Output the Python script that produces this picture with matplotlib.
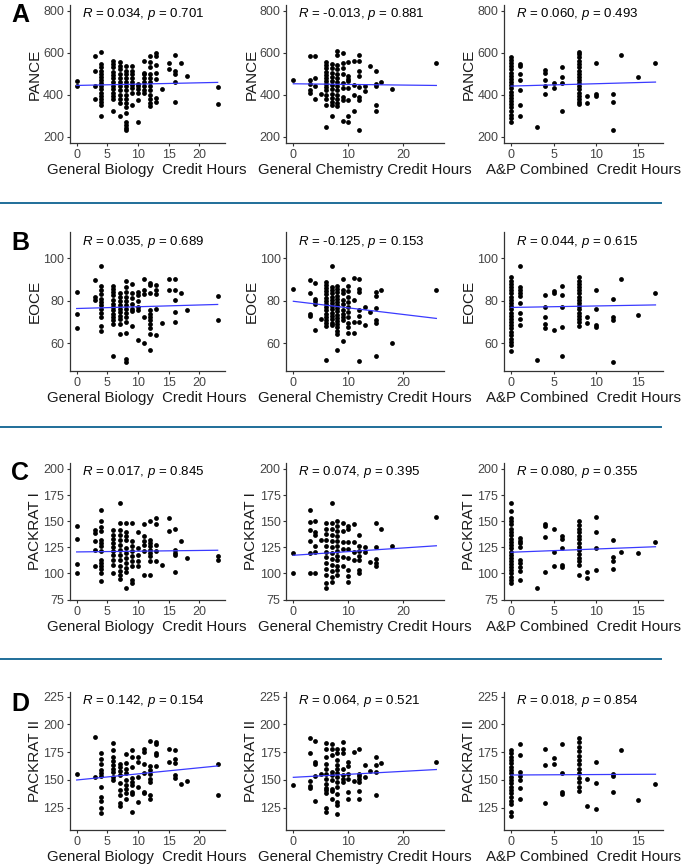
import numpy as np
import matplotlib
matplotlib.use("Agg")
import matplotlib.pyplot as plt
from matplotlib.lines import Line2D

plt.rcParams['font.family'] = ['Liberation Sans', 'DejaVu Sans']
plt.rcParams['mathtext.fontset'] = 'custom'
plt.rcParams['mathtext.rm'] = 'Liberation Sans'
plt.rcParams['mathtext.it'] = 'Liberation Sans:italic'

# ---------------- data (credit hours -> list of scores) ----------------
bio_pance = {0: [465, 440], 3: [585, 513, 440, 380],
             4: [605, 545, 530, 515, 500, 485, 470, 455, 440, 425, 410, 395, 380, 365, 350, 300],
             6: [560, 545, 530, 510, 495, 480, 460, 440, 425, 410, 395, 380, 320],
             7: [555, 535, 520, 500, 480, 460, 440, 420, 400, 380, 360, 300],
             8: [535, 515, 500, 480, 460, 440, 420, 400, 380, 360, 340, 315, 270, 255, 240, 230],
             9: [535, 515, 500, 480, 460, 445, 430, 410, 350],
             10: [450, 440, 425, 410, 375, 270],
             11: [560, 505, 500, 480, 460, 440, 420, 410],
             12: [583, 555, 530, 500, 480, 460, 440, 420, 400, 380, 360, 345],
             13: [600, 585, 540, 505, 475, 385, 365], 14: [425], 15: [550, 522],
             16: [590, 512, 500, 460, 365], 17: [550], 18: [487], 23: [437, 355]}
chem_pance = {0: [468], 3: [585, 468, 452, 424, 408], 4: [585, 481, 440, 378], 5: [405],
              6: [555, 540, 525, 510, 495, 480, 465, 450, 435, 420, 400, 380, 350, 246],
              7: [545, 525, 505, 485, 465, 445, 425, 405, 385, 365, 350, 300],
              8: [610, 588, 540, 520, 500, 480, 460, 440, 420, 400, 380, 360, 345],
              9: [600, 550, 525, 500, 455, 430, 390, 375, 275],
              10: [555, 490, 475, 465, 430, 375, 300, 270], 11: [560, 445, 400, 320],
              12: [590, 560, 515, 490, 438, 390, 375, 230], 13: [440, 418], 14: [538],
              15: [515, 452, 440, 352, 322], 16: [460], 18: [428], 26: [552]}
ap_pance = {0: [580, 565, 550, 535, 520, 505, 490, 475, 460, 445, 430, 415, 400, 385, 370, 355, 340, 320, 305, 290, 270],
            1: [548, 535, 497, 470, 420, 350, 300], 3: [245], 4: [516, 503, 468, 440, 402],
            5: [457, 433], 6: [530, 485, 455, 320],
            8: [605, 595, 580, 560, 545, 530, 515, 500, 485, 470, 455, 440, 425, 410, 395, 380, 365, 355],
            9: [392, 362], 10: [550, 405, 393], 12: [402, 365, 230], 13: [590], 15: [484], 17: [552]}

bio_eoce = {0: [84.3, 74, 67], 3: [89.6, 81.9, 80.3],
            4: [96.6, 87, 85, 83, 81, 79.5, 78, 76.4, 74.5, 72.5, 68, 66],
            6: [87, 85.8, 84, 82.7, 80.3, 78.7, 77, 75.6, 74, 72.5, 71, 69.3, 54.2],
            7: [83.5, 81.9, 79.8, 78, 76.4, 74.8, 73, 71.4, 69.3, 64.3],
            8: [89.3, 86.6, 84.2, 81.9, 79.8, 78, 76.4, 74.5, 72.5, 70, 65, 52.5, 51.2],
            9: [88, 83.5, 81.4, 78.7, 76.4, 75, 68.2], 10: [84.2, 82.7, 79.8, 77, 75.6, 61.4],
            11: [90.5, 85, 83, 72.5, 60],
            12: [88.6, 87.4, 83.5, 75.6, 74, 72.5, 71, 69.3, 67, 64.6, 56.8],
            13: [87.4, 85, 83, 76.4, 64.1], 14: [69.7], 15: [90.2, 85],
            16: [90.2, 85, 80.3, 74.8, 70], 17: [83.5], 18: [75.6], 23: [82.4, 71]}
chem_eoce = {0: [85.4], 3: [89.8, 83.5, 74, 73], 4: [88.5, 80.8, 79.8, 78.7, 66.2], 5: [71.4],
             6: [89, 87.5, 86, 84.5, 83, 81.5, 80, 78.5, 77, 75.5, 74, 72.5, 71, 69.5, 68, 52.1],
             7: [96.5, 86.5, 85, 83.5, 82, 80.5, 79, 77.5, 76, 74.5, 73, 71.5, 69.5, 68.5],
             8: [87, 85.5, 84, 82.5, 81, 79.5, 78, 76.5, 75, 73.5, 72, 70.5, 69, 67.5, 66, 64.5, 56.8],
             9: [90.5, 85, 83.5, 80.3, 78.7, 75.6, 74, 72.5, 71, 61.2],
             10: [87, 84.6, 82, 79.5, 77, 74.8, 72.5, 69.8, 67.8, 64.7],
             11: [90.9, 80.3, 70.1, 65], 12: [90.2, 85.8, 84, 75.6, 73, 70.1, 51.6],
             13: [77.2, 68.5], 14: [74.8], 15: [84, 82.4, 76.7, 71, 69.8, 54.2],
             16: [85], 18: [60], 26: [85]}
ap_eoce = {0: [91, 89.5, 88, 86.5, 85, 83.5, 82, 80.5, 79, 77.5, 76, 74.5, 73, 71.5, 70, 68.5, 67, 65.5, 64, 62, 60.5, 59, 56.5],
           1: [96.5, 86.3, 85.2, 83.6, 82.4, 79.2, 74.5, 71.7, 68.5], 3: [52.2],
           4: [82.7, 76.9, 72.2, 69.3, 67.1], 5: [84.7, 83.6, 66.3], 6: [87, 82.7, 77.3, 67.9, 54.1],
           8: [91, 89.5, 88, 86.5, 85, 83.5, 82, 80.5, 79, 77.5, 76, 74.5, 73, 71.5, 70, 68],
           9: [72.2, 69.8], 10: [85.2, 76.1, 68.6, 67.9], 12: [81.1, 72.2, 70.9, 51.4],
           13: [90.3], 15: [73.2], 17: [83.5]}

bio_pr1 = {0: [145.5, 132.9, 109.5, 100], 3: [141.7, 138.6, 130.7, 122.8, 106.9],
           4: [160.8, 150.3, 144.6, 140.9, 132.2, 129, 126, 121.2, 113.2, 110, 106.9, 103.8, 100.6, 92.7],
           6: [141.7, 137, 132.9, 129, 125.3, 121.2, 117.2, 113.2, 108.5, 100.6],
           7: [167.8, 148.1, 141.7, 137, 132.2, 127.6, 122.8, 118.1, 113.2, 106.9, 102.2, 99, 94.9],
           8: [148.7, 140.1, 135.4, 132.2, 124.4, 119.6, 114.8, 110, 105.3, 101.2, 86.3],
           9: [148.1, 130.7, 126, 121.2, 116.4, 111.6, 106.9, 93.3, 91],
           10: [139.3, 124.4, 118.1, 111.6, 106.9],
           11: [147.6, 135.4, 131.5, 127.6, 121.2, 99],
           12: [150.3, 132.2, 129, 126, 122.8, 119.6, 116.4, 111.6, 99],
           13: [153.5, 147.6, 127.6, 121.2, 111.6], 14: [108.5], 15: [153.5, 140.9],
           16: [142.5, 122.8, 119.6, 117.2, 101.2], 17: [130.7], 18: [114.8], 23: [116.4, 112.7]}
chem_pr1 = {0: [119.6, 100], 3: [160.4, 149.4, 141.5, 131.4, 119.6, 100.9],
            4: [150.3, 139.9, 136.7, 126.6, 120.3, 100.9], 5: [132.3],
            6: [148.7, 143, 137.4, 132, 126.6, 121, 115.5, 110, 104.4, 99, 90.8, 85.8],
            7: [167, 148, 142.4, 136.7, 131, 125.3, 119.6, 114, 108.3, 102.7, 97, 92.1],
            8: [150.3, 145.5, 140.8, 136, 131.3, 126.6, 121.8, 117, 112.4, 107.6, 102.9, 98.1],
            9: [148.7, 140.8, 129.7, 123.4, 115.5, 106.9],
            10: [145.6, 143, 129.7, 123.4, 114.5, 103.7, 98, 92.1],
            11: [147.1, 129.7, 120.3, 113], 12: [136.7, 126.6, 121.8, 117.1, 112.4, 103.7, 100.6],
            13: [124.9, 120.9], 14: [110.8], 15: [148.7, 125.6, 114, 110.2, 107],
            16: [142.4], 18: [126.6], 26: [154.1]}
ap_pr1 = {0: [167, 160, 153, 150, 147, 143, 140, 137, 133, 130, 127, 124, 121, 118, 115, 112, 109, 106, 103, 100, 97, 94, 91],
          1: [133.5, 131.3, 128.8, 125, 113.3, 109.8, 106, 102.8, 93.7], 3: [86.4],
          4: [147.5, 145.3, 134.5, 101.6], 5: [142.1, 120.6, 106.8],
          6: [136, 132.8, 124.2, 108.5, 106],
          8: [150, 146.8, 143, 139.5, 136, 132.5, 129, 125.5, 122, 118.5, 115, 111.5, 108, 98.4],
          9: [101.6, 95.3], 10: [153.8, 139.9, 124.2, 103.5], 12: [131.9, 115.5, 111.7, 103.8],
          13: [120.9], 15: [119.4], 17: [130.1]}

bio_pr2 = {0: [155.4], 3: [188.3, 153],
           4: [174.7, 168.7, 164.5, 159, 156, 153.6, 143.4, 134.4, 131.4, 125, 120],
           6: [183.5, 177.4, 170.3, 167.2, 163.3, 160.3, 157.2, 153, 150],
           7: [164.8, 161.8, 158.2, 154.5, 147, 141, 136.5, 129, 126.5],
           8: [173.5, 165.4, 160.3, 156.6, 150, 145.5, 141.6, 138, 132.6],
           9: [177.4, 170.8, 161.8, 151.5, 148.5, 145.5, 139.5, 137.4, 121.5],
           10: [170.8, 166.3, 152.4, 143.4, 130.5],
           11: [178.3, 175.3, 164.2, 156.6, 139.5, 138],
           12: [185.3, 162.4, 159.4, 155.7, 150.6, 148.5, 136.5, 132.6],
           13: [184.4, 182.3, 174.7, 172.6, 162.4], 15: [178.3, 166.3],
           16: [177.4, 168.7, 165.4, 154.5, 151.5], 17: [146.4], 18: [149.4], 23: [164.2, 136.5]}
chem_pr2 = {0: [145.8], 3: [188.2, 174.7, 148.8, 144.6, 142.8], 4: [185.2, 166.3, 164.8, 153.6, 131],
            5: [155.7],
            6: [183.7, 177.7, 170.8, 164.8, 160.2, 155.7, 151.2, 146.7, 142.8, 140.6, 138.6, 124.7, 121],
            7: [182.8, 177.7, 172.9, 157.2, 154.2, 149.7, 142.1, 139.8, 133.1],
            8: [178.3, 174.7, 167.8, 163.9, 160.2, 156.6, 152.7, 148.2, 143.7, 137.7, 130.1, 127.1, 119.5],
            9: [184.3, 177.7, 174.7, 159.6, 154.8, 150.6, 148.2],
            10: [166.3, 162.7, 155.7, 150.6, 139.2, 132.5], 11: [175.3, 148.8],
            12: [177.7, 155.7, 153.6, 151.2, 148.2, 139.8, 132.5], 13: [163.3, 152.4], 14: [158.4],
            15: [170.8, 163.9, 157.2, 136.8], 16: [165.7], 26: [166.3]}
ap_pr2 = {0: [177, 174, 171, 168, 165, 162, 159, 156, 153, 150, 147, 144, 141, 138, 135, 131, 128, 121, 118],
          1: [182, 172.6, 156.8, 153.8, 150.1, 143.2, 132.5], 4: [178, 163.8, 129.5],
          5: [169.9, 164.4], 6: [182.6, 156.2, 139.2, 137.1],
          8: [187.6, 184, 180, 176, 172, 168, 164, 160, 156, 152, 148, 144, 140],
          9: [150.6, 126.5], 10: [165.9, 147.2, 123.5], 12: [155.3, 153.8, 139.5],
          13: [177.1], 15: [131.6], 17: [146.3]}

# fitted regression lines: (intercept, slope)
fit_A = [(444, 0.63), (452, -0.31), (441, 1.12)]
fit_B = [(76.4, 0.083), (79.8, -0.31), (76.9, 0.07)]
fit_C = [(120.6, 0.07), (117.4, 0.35), (120.3, 0.31)]
fit_D = [(150.0, 0.55), (152.4, 0.27), (154.5, 0.04)]

stats_A = ["$R$ = 0.034, $p$ = 0.701", "$R$ = -0.013, $p$ = 0.881", "$R$ = 0.060, $p$ = 0.493"]
stats_B = ["$R$ = 0.035, $p$ = 0.689", "$R$ = -0.125, $p$ = 0.153", "$R$ = 0.044, $p$ = 0.615"]
stats_C = ["$R$ = 0.017, $p$ = 0.845", "$R$ = 0.074, $p$ = 0.395", "$R$ = 0.080, $p$ = 0.355"]
stats_D = ["$R$ = 0.142, $p$ = 0.154", "$R$ = 0.064, $p$ = 0.521", "$R$ = 0.018, $p$ = 0.854"]

row_letters = ["A", "B", "C", "D"]
y_labels = ["PANCE", "EOCE", "PACKRAT I", "PACKRAT II"]
x_labels = ["General Biology  Credit Hours", "General Chemistry Credit Hours", "A&P Combined  Credit Hours"]
y_ticks = [[200, 400, 600, 800], [60, 80, 100], [75, 100, 125, 150, 175, 200], [125, 150, 175, 200, 225]]
y_lims = [(170, 827), (47, 112.4), (74.6, 205.7), (105, 229.2)]
x_ticks = [[0, 5, 10, 15, 20], [0, 10, 20], [0, 5, 10, 15]]
x_lims = [(-1.15, 24.15), (-1.3, 27.3), (-0.85, 17.85)]

panels = [[bio_pance, chem_pance, ap_pance],
          [bio_eoce, chem_eoce, ap_eoce],
          [bio_pr1, chem_pr1, ap_pr1],
          [bio_pr2, chem_pr2, ap_pr2]]
fits = [fit_A, fit_B, fit_C, fit_D]
stats = [stats_A, stats_B, stats_C, stats_D]

# ---------------- layout ----------------
W, H = 681, 867
fig = plt.figure(figsize=(W / 100, H / 100), dpi=100)
col_px = [(69.6, 224.7), (286.2, 443.5), (503.8, 662.7)]
row_px = [(5, 143), (232, 371), (463, 600), (692, 830)]
stat_x = [0.082, 0.075, 0.076]
stat_y = [0.935, 0.93, 0.937, 0.937]
letter_pos = [(20, 15), (20, 243), (20, 473), (20, 704)]
sep_y = [203, 427, 659]

axis_col = '#333333'
tick_col = '#444444'

for r in range(4):
    t, b = row_px[r]
    for c in range(3):
        l, rr = col_px[c]
        ax = fig.add_axes([l / W, 1 - b / H, (rr - l) / W, (b - t) / H])
        d = panels[r][c]
        xs = np.concatenate([[k] * len(v) for k, v in d.items()]).astype(float)
        ys = np.concatenate([v for v in d.values()]).astype(float)
        ax.scatter(xs, ys, s=12, c='black', linewidths=0, zorder=3)
        a, sl = fits[r][c]
        lx = np.array([xs.min(), xs.max()])
        ax.plot(lx, a + sl * lx, color='#3a3aff', lw=0.9, zorder=4)
        ax.set_xlim(*x_lims[c])
        ax.set_ylim(*y_lims[r])
        ax.set_xticks(x_ticks[c])
        ax.set_yticks(y_ticks[r])
        for s in ['top', 'right']:
            ax.spines[s].set_visible(False)
        for s in ['left', 'bottom']:
            ax.spines[s].set_color(axis_col)
            ax.spines[s].set_linewidth(0.9)
        ax.tick_params(axis='both', length=2.5, width=0.8, color=axis_col,
                       labelcolor=tick_col, labelsize=9, pad=1.5)
        ax.set_ylabel(y_labels[r], fontsize=11, labelpad=1, color='#1a1a1a')
        ax.set_xlabel(x_labels[c], fontsize=10.8, labelpad=2, color='#1a1a1a')
        ax.text(stat_x[c], stat_y[r], stats[r][c], transform=ax.transAxes,
                fontsize=9.5, ha='left', va='center', color='black')

for (lx, ly), letter in zip(letter_pos, row_letters):
    fig.text(lx / W, 1 - ly / H, letter, fontsize=18, fontweight='bold',
             ha='center', va='center')

for y in sep_y:
    fig.add_artist(Line2D([0.0, 0.97], [1 - y / H] * 2, color='#1f6e99', lw=1.4))

fig.savefig("out.png", dpi=100)
